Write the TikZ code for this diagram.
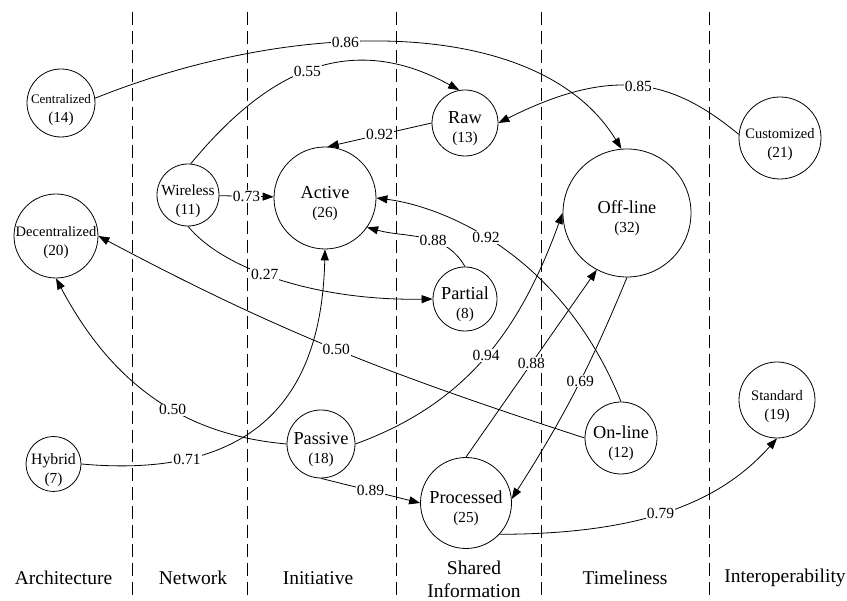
\documentclass[tikz,border=0pt]{standalone}
\usepackage{fontspec}
\setmainfont{Liberation Serif}
\usetikzlibrary{arrows.meta}
\newcommand{\cnum}[1]{{\fontsize{15.3}{19}\selectfont(#1)}}
\newcommand{\fac}[2]{\rule{0pt}{24pt}#1\\\cnum{#2}}

\begin{document}
\begin{tikzpicture}[x=1pt,y=1pt]
\tikzstyle{every node}=[font=\fontsize{15.3}{19}\selectfont]
\tikzstyle{factor}=[circle,draw,line width=0.8pt,inner sep=-5pt,align=center]
\tikzstyle{major}=[font=\fontsize{18.3}{19}\selectfont]
\tikzstyle{weight}=[fill=white,inner sep=1pt,font=\fontsize{15.5}{18}\selectfont]
\tikzstyle{link}=[line width=0.8pt,-{Triangle[length=11pt,width=8pt]}]
\tikzstyle{divider}=[line width=0.9pt,dash pattern=on 13pt off 6pt]
\tikzstyle{dimension}=[font=\fontsize{19.5}{23}\selectfont,align=center,inner sep=1pt]
\useasboundingbox (0,0) rectangle (847,601);

\foreach \x in {132,247,396,541,709}
	\draw[divider] (\x,589) -- (\x,0);

\node[factor,minimum size=68pt,font=\fontsize{13}{19}\selectfont] (cen) at (61,498) {\fac{Centralized}{14}};
\node[factor,minimum size=84pt,font=\fontsize{14.5}{19}\selectfont] (dec) at (56,365) {\fac{Decentralized}{20}};
\node[factor,minimum size=55pt,font=\fontsize{15.8}{19}\selectfont] (hyb) at (53.5,137) {\fac{Hybrid}{7}};
\node[factor,minimum size=62pt,font=\fontsize{15.4}{19}\selectfont] (wir) at (188,406) {\fac{Wireless}{11}};
\node[factor,major,minimum size=102pt] (act) at (325,403) {\fac{Active}{26}};
\node[factor,major,minimum size=66pt] (raw) at (465,478) {\fac{Raw}{13}};
\node[factor,major,minimum size=64pt] (par) at (465,302) {\fac{Partial}{8}};
\node[factor,major,minimum size=68pt] (pas) at (321,157) {\fac{Passive}{18}};
\node[factor,major,minimum size=91pt] (pro) at (466,98) {\fac{Processed}{25}};
\node[factor,major,minimum size=128pt] (off) at (627,388) {\fac{Off-line}{32}};
\node[factor,major,minimum size=72pt] (onl) at (621,163) {\fac{On-line}{12}};
\node[factor,minimum size=82pt,font=\fontsize{14.5}{19}\selectfont] (cus) at (780,463) {\fac{Customized}{21}};
\node[factor,minimum size=76pt,font=\fontsize{14.5}{19}\selectfont] (sta) at (777,201) {\fac{Standard}{19}};

\draw[link] (cen.8) .. controls (300,585) and (540,585) .. node[weight,pos=0.4]{0.86} (off.95);
\draw[link] (wir.85) .. controls (260,521) and (343,575) .. node[weight]{0.55} (raw.100);
\draw[link] (raw.west) -- node[weight]{0.92} (act.87);
\draw[link] (wir) -- node[weight]{0.73} (act);
\draw[link] (cus.175) .. controls (674,520) and (616,537) .. node[weight]{0.85} (raw.east);
\draw[link] (onl.north) .. controls (560,350) and (440,395) .. node[weight,pos=0.55]{0.92} (act.east);
\draw[link] (par.north) to[out=120,in=-15] node[weight,pos=0.4]{0.88} (act.-35);
\draw[link] (wir.south) .. controls (225,330) and (320,300) .. node[weight,pos=0.43]{0.27} (par.west);
\draw[link] (onl.west) to[out=162,in=-28] node[weight]{0.50} (dec.east);
\draw[link] (pas.west) to[out=175,in=-62] node[weight,pos=0.4]{0.50} (dec.south);
\draw[link] (hyb.east) .. controls (270,120) and (322,220) .. node[weight,pos=0.22]{0.71} (act.south);
\draw[link] (pas.east) to[out=20,in=-110] node[weight]{0.94} (off.west);
\draw[link] (pro.north) -- node[weight]{0.88} (off.-118);
\draw[link] (off.south) to[bend left=5] node[weight,pos=0.45]{0.69} (pro.5);
\draw[link] (pas.south) -- node[weight]{0.89} (pro.west);
\draw[link] (pro.-43) .. controls (649,67) and (723,102) .. node[weight,pos=0.45]{0.79} (sta.south);

\node[dimension] (arch) at (63.5,23) {Architecture};
\node[dimension] (net) at (193,23) {Network};
\node[dimension] (ini) at (318,23) {Initiative};
\node[dimension] (shr) at (474,22) {Shared\\Information};
\node[dimension] (tml) at (625,23) {Timeliness};
\node[dimension] (ipb) at (785,23) {Interoperability};
\end{tikzpicture}
\end{document}
